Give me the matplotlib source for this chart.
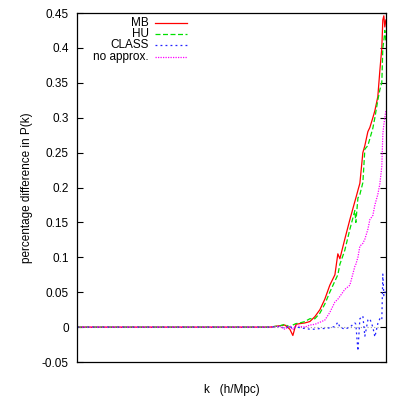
import matplotlib
matplotlib.use("Agg")
import matplotlib.pyplot as plt

plt.rcParams['font.family'] = ['Liberation Sans', 'DejaVu Sans']

# k grid (h/Mpc) shared by all series
k = [1.0e-4, 0.0315, 0.0425, 0.0493, 0.0571, 0.0625, 0.0684, 0.0771, 0.0894, 0.1038,
     0.1205, 0.140, 0.162, 0.188, 0.219, 0.239, 0.254, 0.294, 0.342, 0.397, 0.409,
     0.435, 0.461, 0.504, 0.535, 0.585, 0.621, 0.679, 0.721, 0.787, 0.836, 0.887,
     0.914, 0.942, 0.970, 1.0]

mb = [0, 0, 0.002, 0.003, -0.003, -0.012, 0.004, 0.005, 0.006, 0.008,
      0.015, 0.025, 0.040, 0.060, 0.075, 0.105, 0.098, 0.126, 0.154, 0.180, 0.185,
      0.196, 0.206, 0.250, 0.260, 0.280, 0.286, 0.300, 0.310, 0.330, 0.367, 0.400,
      0.440, 0.446, 0.430, 0.440]

hu = [0, 0, 0.002, 0.004, 0.000, 0.003, 0.005, 0.006, 0.008, 0.012,
      0.012, 0.020, 0.033, 0.050, 0.066, 0.075, 0.090, 0.110, 0.140, 0.167, 0.150,
      0.185, 0.190, 0.207, 0.255, 0.260, 0.270, 0.285, 0.300, 0.325, 0.340, 0.350,
      0.400, 0.410, 0.425, 0.410]

class_ = [0, 0, 0.001, -0.002, 0.002, -0.003, 0.001, -0.001, -0.002, -0.003,
          -0.003, -0.002, -0.002, -0.001, 0.001, 0.007, 0.000, -0.003, 0.000, 0.006, 0.004,
          -0.034, 0.012, 0.016, -0.013, 0.010, 0.012, 0.000, -0.014, 0.005, 0.012, 0.010,
          0.076, 0.045, 0.050, 0.050]

noapprox = [0, 0, 0.001, -0.003, 0.002, -0.004, 0.002, 0.001, 0.000, 0.003,
            0.004, 0.007, 0.010, 0.021, 0.036, 0.040, 0.044, 0.054, 0.060, 0.087, 0.090,
            0.100, 0.116, 0.120, 0.126, 0.140, 0.154, 0.160, 0.175, 0.190, 0.205, 0.230,
            0.277, 0.290, 0.300, 0.310]

labels = ["MB", "HU", "CLASS", "no approx."]
yticks = [-0.05, 0, 0.05, 0.1, 0.15, 0.2, 0.25, 0.3, 0.35, 0.4, 0.45]
yticklabels = ["-0.05", "0", "0.05", "0.1", "0.15", "0.2", "0.25", "0.3", "0.35", "0.4", "0.45"]

fig = plt.figure(figsize=(3.99, 3.99), dpi=100)
ax = fig.add_axes([0.193, 0.0927, 0.774, 0.8747])

ax.axhline(0, color='#a0a0a0', lw=0.8, ls=(0, (1, 2)), zorder=1)

styles = [
    dict(color='#ff0000', lw=0.9, ls='-'),
    dict(color='#00e000', lw=0.9, ls=(0, (4, 2))),
    dict(color='#2020ff', lw=0.9, ls=(0, (1.5, 2.5))),
    dict(color='#ff00ff', lw=0.9, ls=(0, (1, 1))),
]
series = [mb, hu, class_, noapprox]
for s, st in zip(series, styles):
    ax.plot(k, s, zorder=2, **st)

ax.set_xscale('log')
ax.set_xlim(1e-4, 1.0)
ax.set_ylim(-0.05, 0.45)
ax.set_xticks([])
ax.xaxis.set_minor_locator(matplotlib.ticker.NullLocator())
ax.set_yticks(yticks)
ax.set_yticklabels(yticklabels)
ax.tick_params(axis='y', direction='in', length=4, width=0.8, labelsize=8.5,
               pad=6, right=True, left=True)
for sp in ax.spines.values():
    sp.set_linewidth(0.9)

ax.set_ylabel("percentage difference in P(k)", fontsize=8.5, labelpad=6)
ax.set_xlabel("k   (h/Mpc)", fontsize=8.5, labelpad=16)

# legend (gnuplot style: text right-aligned, sample to the right)
rows_y = [0.971, 0.939, 0.907, 0.874]
for lab, st, yy in zip(labels, styles, rows_y):
    ax.text(0.233, yy, lab, transform=ax.transAxes, ha='right', va='center', fontsize=8.5)
    ax.plot([0.251, 0.357], [yy, yy], transform=ax.transAxes, **st)

fig.savefig("out.png", dpi=100)
